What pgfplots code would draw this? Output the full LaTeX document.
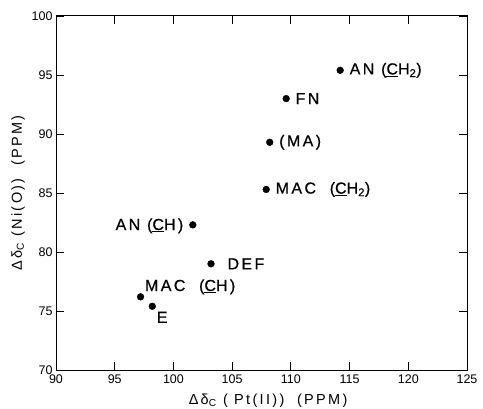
\documentclass[border=0pt]{standalone}
\usepackage{fontspec}
\setmainfont{Liberation Sans}
\usepackage{pgfplots}
\pgfplotsset{compat=1.18}
\newfontfamily\lblfont{Liberation Sans}[LetterSpace=15, FakeBold=0.6]
\newfontfamily\axfont{Liberation Sans}[LetterSpace=16]
\begin{document}
\begin{tikzpicture}
\begin{axis}[
  scale only axis,
  width=411bp, height=354bp,
  xmin=90, xmax=125, ymin=70, ymax=100,
  xtick={90,95,...,125}, ytick={70,75,...,100},
  tick align=inside,
  major tick length=8bp,
  axis line style={line width=1pt},
  tick style={line width=0.9pt, black},
  /pgf/number format/assume math mode=true,
  ticklabel style={font=\fontsize{12.5bp}{14bp}\selectfont},
  xticklabel style={yshift=-1bp},
  label style={font=\axfont\fontsize{14.5bp}{16bp}\selectfont},
  xlabel={Δδ\textsubscript{C}\ ( Pt(II)) \ (PPM)},
  ylabel={Δδ\textsubscript{C}\ (Ni(O)) \ (PPM)},
  xlabel style={at={(axis description cs:0.516,0)}, anchor=center, yshift=-31bp},
  ylabel style={at={(axis description cs:0,0.5)}, anchor=center, yshift=38bp},
  every node near coord/.append style={font=\lblfont\fontsize{16bp}{18bp}\selectfont, black},
  point meta=explicit symbolic,
]
% labels to the right
\addplot[only marks, mark=*, mark size=3.4bp, black, nodes near coords,
  nodes near coords style={anchor=west, xshift=6bp}]
  coordinates {
  (114.2,95.4) [{AN (\underline{C}H\textsubscript{2})}]
  (109.6,93.0) [{FN}]
  (108.2,89.3) [{(MA)}]
  (107.9,85.3) [{MAC \ (\underline{C}H\textsubscript{2})}]
};
\addplot[only marks, mark=*, mark size=3.4bp, black, nodes near coords,
  nodes near coords style={anchor=west, xshift=13bp}]
  coordinates {
  (103.2,79.0) [{DEF}]
};
% label to the left
\addplot[only marks, mark=*, mark size=3.4bp, black, nodes near coords,
  nodes near coords style={anchor=east, xshift=-6bp, yshift=-1bp}]
  coordinates {
  (101.65,82.3) [{AN (\underline{C}H)}]
};
% label above right
\addplot[only marks, mark=*, mark size=3.4bp, black, nodes near coords,
  nodes near coords style={anchor=south west, xshift=1bp, yshift=-1bp}]
  coordinates {
  (97.2,76.2) [{MAC \ (\underline{C}H)}]
};
% label below right
\addplot[only marks, mark=*, mark size=3.4bp, black, nodes near coords,
  nodes near coords style={anchor=north west, xshift=1bp, yshift=-2bp}]
  coordinates {
  (98.2,75.4) [{E}]
};
\end{axis}
\pgfresetboundingbox
\path[use as bounding box] ([shift={(-56bp,-39bp)}]current axis.south west)
  rectangle ([shift={(16bp,16bp)}]current axis.north east);
\end{tikzpicture}
\end{document}
